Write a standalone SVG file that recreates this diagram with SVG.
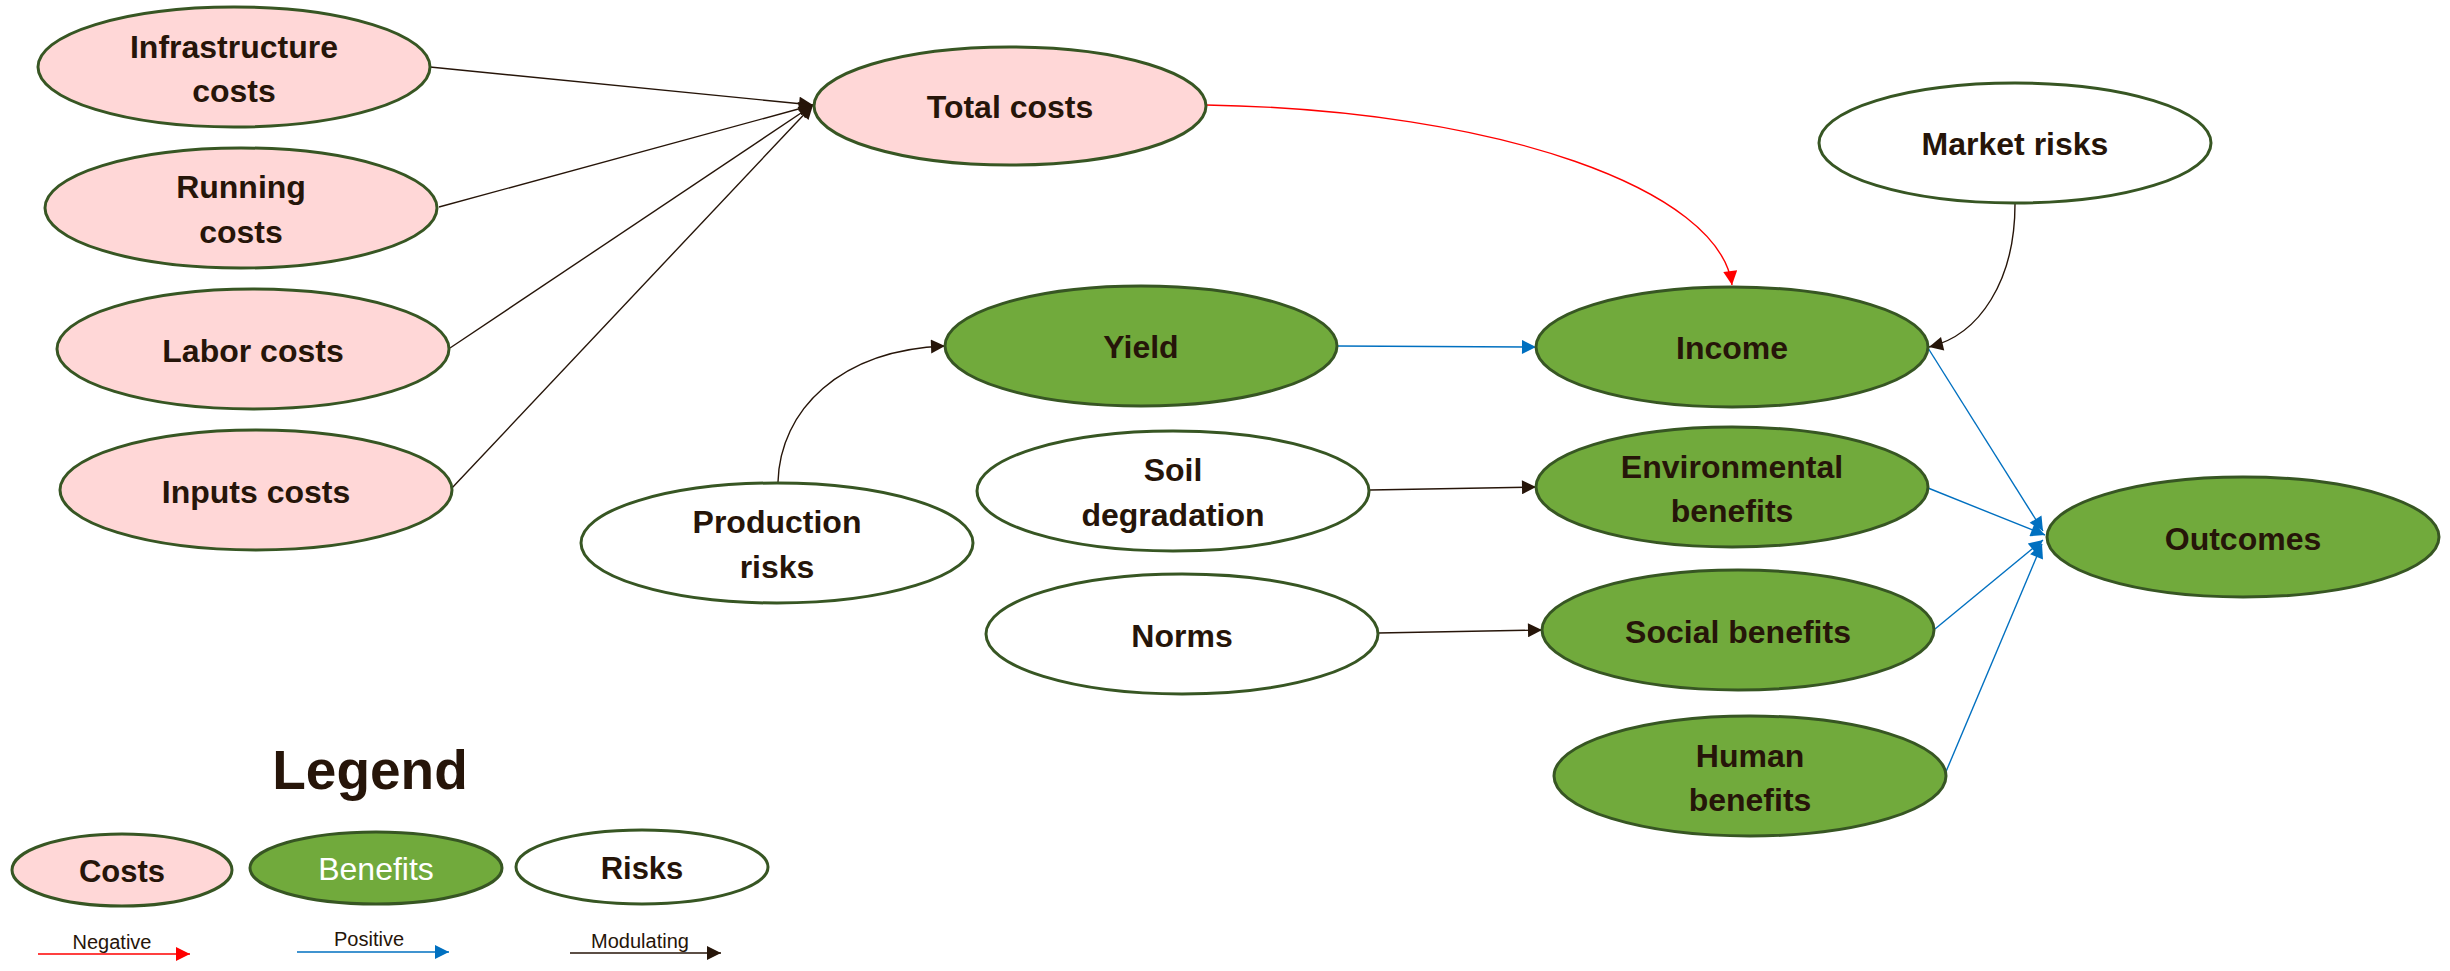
<svg xmlns="http://www.w3.org/2000/svg" width="2450" height="971" viewBox="0 0 2450 971">
<style>
.n{stroke:#375623;stroke-width:3}
.cost{fill:#ffd7d7}
.ben{fill:#71aa3c}
.risk{fill:#ffffff}
.t{font-family:"Liberation Sans",Arial,sans-serif;font-weight:bold;font-size:32px;fill:#261509;text-anchor:middle}
.e{fill:none;stroke-width:1.4}
.k{stroke:#261509}
.b{stroke:#0070c0}
.r{stroke:#ff0000}
.lg{font-family:"Liberation Sans",Arial,sans-serif;font-size:20px;fill:#261509;text-anchor:middle}
</style>
<defs>
<marker id="ak" viewBox="0 0 10 10" refX="10" refY="5" markerWidth="16" markerHeight="14" markerUnits="userSpaceOnUse" orient="auto"><path d="M0,0 L10,5 L0,10 z" fill="#261509"/></marker>
<marker id="ab" viewBox="0 0 10 10" refX="10" refY="5" markerWidth="16" markerHeight="14" markerUnits="userSpaceOnUse" orient="auto"><path d="M0,0 L10,5 L0,10 z" fill="#0070c0"/></marker>
<marker id="ar" viewBox="0 0 10 10" refX="10" refY="5" markerWidth="16" markerHeight="14" markerUnits="userSpaceOnUse" orient="auto"><path d="M0,0 L10,5 L0,10 z" fill="#ff0000"/></marker>
</defs>
<rect width="2450" height="971" fill="#ffffff"/>
<g id="connectors">
<line class="e k" x1="430" y1="67" x2="813" y2="105" marker-end="url(#ak)"/>
<line class="e k" x1="439" y1="207" x2="813" y2="105" marker-end="url(#ak)"/>
<line class="e k" x1="450" y1="348" x2="813" y2="105" marker-end="url(#ak)"/>
<line class="e k" x1="451" y1="489" x2="813" y2="105" marker-end="url(#ak)"/>
<path class="e r" d="M1206,105 C1500,110 1720,190 1732,285" marker-end="url(#ar)"/>
<line class="e b" x1="1337" y1="346" x2="1536" y2="347" marker-end="url(#ab)"/>
<path class="e k" d="M778,482 C780,410 840,350 945,346" marker-end="url(#ak)"/>
<path class="e k" d="M2015,204 C2015,280 1980,335 1929,347" marker-end="url(#ak)"/>
<line class="e k" x1="1370" y1="490" x2="1536" y2="487" marker-end="url(#ak)"/>
<line class="e k" x1="1378" y1="633" x2="1542" y2="630" marker-end="url(#ak)"/>
<line class="e b" x1="1928" y1="348" x2="2043" y2="531" marker-end="url(#ab)"/>
<line class="e b" x1="1928" y1="488" x2="2045" y2="535" marker-end="url(#ab)"/>
<line class="e b" x1="1935" y1="629" x2="2043" y2="540" marker-end="url(#ab)"/>
<line class="e b" x1="1945" y1="774" x2="2042" y2="544" marker-end="url(#ab)"/>
</g>
<g id="infrastructure-costs"><ellipse class="n cost" cx="234" cy="67" rx="196" ry="60"/><text class="t" x="234" y="58">Infrastructure</text><text class="t" x="234" y="102">costs</text></g>
<g id="running-costs"><ellipse class="n cost" cx="241" cy="208" rx="196" ry="60"/><text class="t" x="241" y="198">Running</text><text class="t" x="241" y="243">costs</text></g>
<g id="labor-costs"><ellipse class="n cost" cx="253" cy="349" rx="196" ry="60"/><text class="t" x="253" y="362">Labor costs</text></g>
<g id="inputs-costs"><ellipse class="n cost" cx="256" cy="490" rx="196" ry="60"/><text class="t" x="256" y="503">Inputs costs</text></g>
<g id="total-costs"><ellipse class="n cost" cx="1010" cy="106" rx="196" ry="59"/><text class="t" x="1010" y="118">Total costs</text></g>
<g id="yield"><ellipse class="n ben" cx="1141" cy="346" rx="196" ry="60"/><text class="t" x="1141" y="358">Yield</text></g>
<g id="production-risks"><ellipse class="n risk" cx="777" cy="543" rx="196" ry="60"/><text class="t" x="777" y="533">Production</text><text class="t" x="777" y="578">risks</text></g>
<g id="soil-degradation"><ellipse class="n risk" cx="1173" cy="491" rx="196" ry="60"/><text class="t" x="1173" y="481">Soil</text><text class="t" x="1173" y="526">degradation</text></g>
<g id="norms"><ellipse class="n risk" cx="1182" cy="634" rx="196" ry="60"/><text class="t" x="1182" y="647">Norms</text></g>
<g id="market-risks"><ellipse class="n risk" cx="2015" cy="143" rx="196" ry="60"/><text class="t" x="2015" y="155">Market risks</text></g>
<g id="income"><ellipse class="n ben" cx="1732" cy="347" rx="196" ry="60"/><text class="t" x="1732" y="359">Income</text></g>
<g id="environmental-benefits"><ellipse class="n ben" cx="1732" cy="487" rx="196" ry="60"/><text class="t" x="1732" y="478">Environmental</text><text class="t" x="1732" y="522">benefits</text></g>
<g id="social-benefits"><ellipse class="n ben" cx="1738" cy="630" rx="196" ry="60"/><text class="t" x="1738" y="643">Social benefits</text></g>
<g id="human-benefits"><ellipse class="n ben" cx="1750" cy="776" rx="196" ry="60"/><text class="t" x="1750" y="767">Human</text><text class="t" x="1750" y="811">benefits</text></g>
<g id="outcomes"><ellipse class="n ben" cx="2243" cy="537" rx="196" ry="60"/><text class="t" x="2243" y="550">Outcomes</text></g>
<g id="legend">
<text class="t" x="370" y="789" style="font-size:55px">Legend</text>
<ellipse class="n cost" cx="122" cy="870" rx="110" ry="36"/><text class="t" x="122" y="882" style="font-size:31px">Costs</text>
<ellipse class="n ben" cx="376" cy="868" rx="126" ry="36"/><text class="t" x="376" y="880" style="font-size:32px;font-weight:normal;fill:#ffffff">Benefits</text>
<ellipse class="n risk" cx="642" cy="867" rx="126" ry="37"/><text class="t" x="642" y="879" style="font-size:31px">Risks</text>
<line class="e r" x1="38" y1="954" x2="190" y2="954" marker-end="url(#ar)"/>
<text class="lg" x="112" y="949">Negative</text>
<line class="e b" x1="297" y1="952" x2="449" y2="952" marker-end="url(#ab)"/>
<text class="lg" x="369" y="946">Positive</text>
<line class="e k" x1="570" y1="953" x2="721" y2="953" marker-end="url(#ak)"/>
<text class="lg" x="640" y="948">Modulating</text>
</g>
</svg>
